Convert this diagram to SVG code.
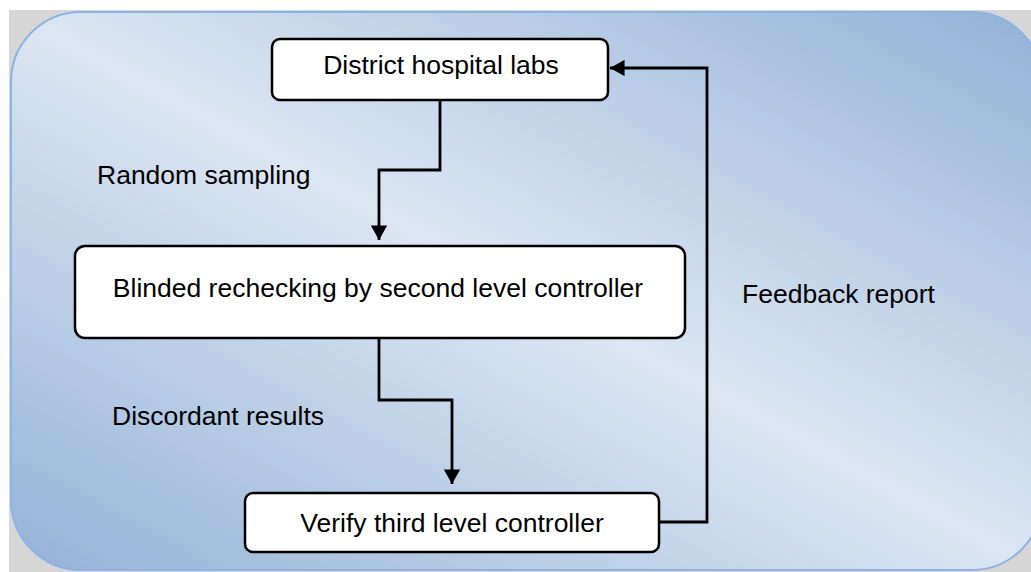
<svg xmlns="http://www.w3.org/2000/svg" width="1031" height="572" viewBox="0 0 1031 572">
  <defs>
    <linearGradient id="bg" x1="1" y1="0" x2="0" y2="1">
      <stop offset="0" stop-color="#93b1d7"/>
      <stop offset="0.5" stop-color="#dce6f2"/>
      <stop offset="1" stop-color="#94b2d8"/>
    </linearGradient>
    <marker id="arrow" viewBox="0 0 10 10" refX="10" refY="5" markerWidth="5.2" markerHeight="5.8" orient="auto" markerUnits="strokeWidth" preserveAspectRatio="none">
      <path d="M0,0 L10,5 L0,10 Z" fill="#000"/>
    </marker>
    <style>
      .node rect { fill: #ffffff; stroke: #000000; stroke-width: 2.5; }
      .node text, .label { font-family: "Liberation Sans", Arial, sans-serif; font-size: 26.5px; fill: #000000; }
      .node text { text-anchor: middle; }
      .conn { fill: none; stroke: #000000; stroke-width: 2.8; marker-end: url(#arrow); }
    </style>
  </defs>

  <rect x="0" y="0" width="1031" height="572" fill="#ffffff"/>
  <rect x="9" y="10" width="1022" height="562" fill="#d6d6d6"/>
  <rect id="panel" x="11" y="12" width="1031" height="558" rx="70" ry="70" fill="url(#bg)" stroke="#8db3e2" stroke-width="2"/>

  <g id="connectors">
    <path class="conn" d="M440,100 V170 H379 V240"/>
    <path class="conn" d="M379,338 V400 H452 V484"/>
    <path class="conn" d="M659,522 H707 V68 H610"/>
  </g>

  <g id="node-district" class="node">
    <rect x="272" y="39" width="336" height="61" rx="8" ry="8"/>
    <text x="441" y="74">District hospital labs</text>
  </g>

  <g id="node-blinded" class="node">
    <rect x="75" y="246" width="610" height="92" rx="10" ry="10"/>
    <text x="378" y="297">Blinded rechecking by second level controller</text>
  </g>

  <g id="node-verify" class="node">
    <rect x="245" y="493" width="414" height="59" rx="8" ry="8"/>
    <text x="452" y="532">Verify third level controller</text>
  </g>

  <g id="labels">
    <text class="label" x="97" y="184">Random sampling</text>
    <text class="label" x="112" y="425">Discordant results</text>
    <text class="label" x="742" y="303">Feedback report</text>
  </g>
</svg>
